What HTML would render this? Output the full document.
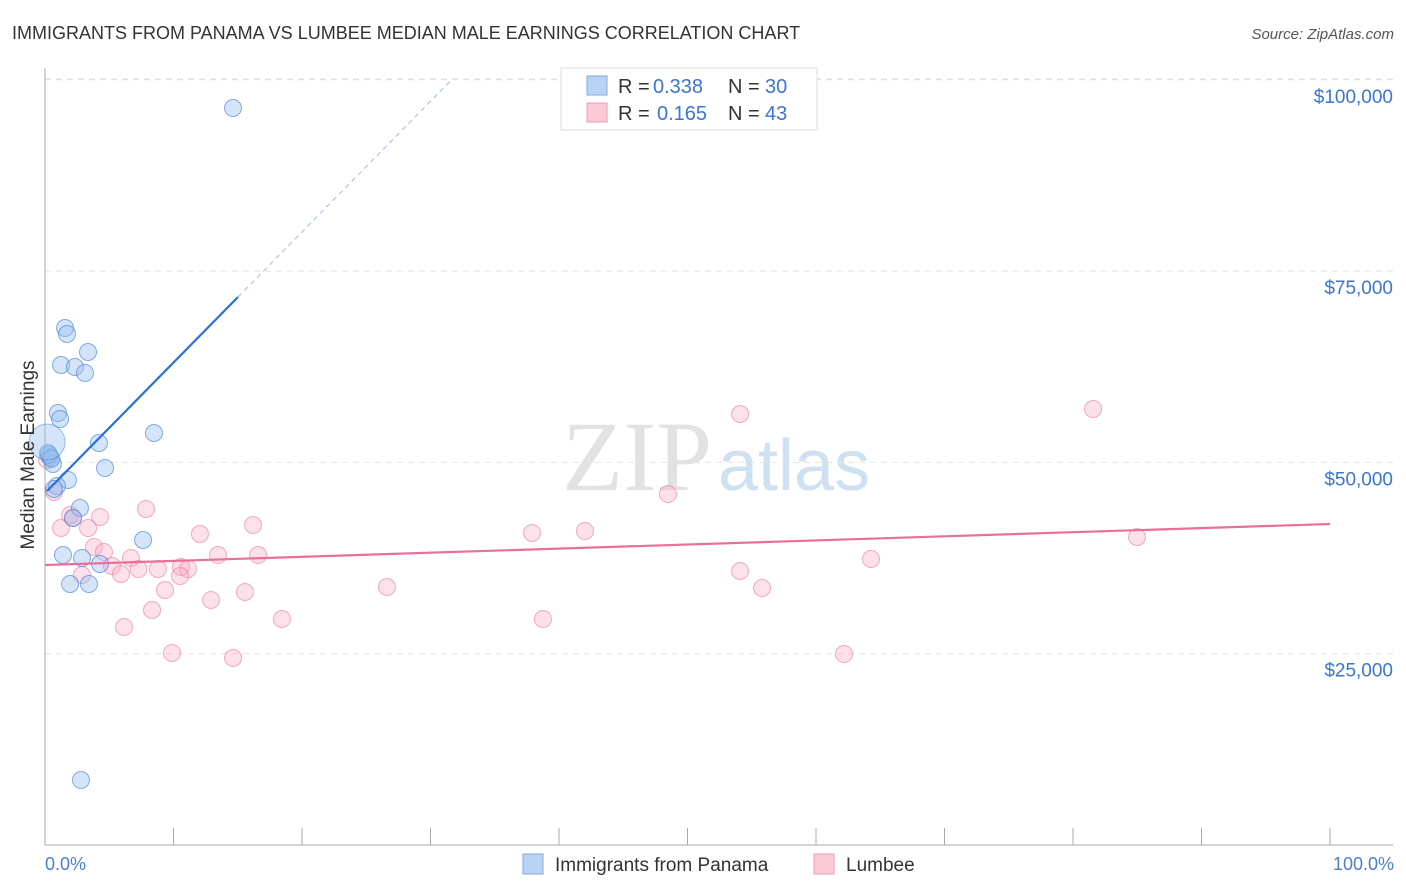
<!DOCTYPE html>
<html><head><meta charset="utf-8">
<style>
body{margin:0;background:#fff;font-family:"Liberation Sans",sans-serif;}
#c{position:absolute;left:0;top:0;}
</style></head>
<body>
<svg id="c" width="1406" height="892">
<text x="12" y="39" font-size="18" fill="#333">IMMIGRANTS FROM PANAMA VS LUMBEE MEDIAN MALE EARNINGS CORRELATION CHART</text>
<text x="1394" y="39" font-size="15" fill="#555" font-style="italic" text-anchor="end">Source: ZipAtlas.com</text>
<text x="712" y="490" font-size="100" fill="#e2e2e2" text-anchor="end" font-family="Liberation Serif">ZIP</text>
<text x="718" y="490" font-size="72" fill="#cfe0f3">atlas</text>
<g id="grid"></g><g id="axes"></g><g id="pts"></g><g id="lines"></g>
<text transform="translate(34,455) rotate(-90)" font-size="19" fill="#333" text-anchor="middle">Median Male Earnings</text>
<text x="45" y="870" font-size="18" fill="#4a7fd0">0.0%</text>
<text x="1394" y="870" font-size="18" fill="#4a7fd0" text-anchor="end">100.0%</text>
<g>
<rect x="561" y="68" width="256" height="62" fill="#fff" stroke="#ddd"/>
<rect x="587" y="76" width="20" height="19" fill="#b8d3f5" stroke="#7ea8e0"/>
<rect x="587" y="103" width="20" height="19" fill="#fbc9d8" stroke="#f09ab5"/>
<text y="93" font-size="20" fill="#333"><tspan x="618">R =</tspan><tspan x="653" fill="#3a76d0">0.338</tspan><tspan x="728">N =</tspan><tspan x="765" fill="#3a76d0">30</tspan></text>
<text y="120" font-size="20" fill="#333"><tspan x="618">R =</tspan><tspan x="657" fill="#3a76d0">0.165</tspan><tspan x="728">N =</tspan><tspan x="765" fill="#3a76d0">43</tspan></text>
</g>
<g>
<rect x="523" y="854" width="20" height="20" fill="#b8d3f5" stroke="#7ea8e0"/>
<text x="555" y="871" font-size="19" fill="#333">Immigrants from Panama</text>
<rect x="814" y="854" width="20" height="20" fill="#fbc9d8" stroke="#f09ab5"/>
<text x="846" y="871" font-size="19" fill="#333">Lumbee</text>
</g>
</svg>
<script>
const yTicks=[25000,50000,75000,100000];
const yTickLabels=["$25,000","$50,000","$75,000","$100,000"];
const xTicks=[0,10,20,30,40,50,60,70,80,90,100];
const blueX=[14.63,1.56,1.71,3.35,1.25,2.33,3.11,1.01,1.17,8.48,4.20,0.23,0.39,0.62,4.67,1.79,0.93,0.70,2.72,2.18,7.63,1.40,2.88,4.28,1.95,3.42,2.80,0.30,0.50];
const blueY=[96316,67564,66780,64428,62729,62467,61683,56456,55672,53842,52535,51229,50706,49791,49268,47700,46916,46524,44041,42734,39859,37899,37507,36722,34109,34109,8494,51000,50500];
const bigX=[0.16];
const bigY=[52666];
const pinkX=[0.70,1.25,1.95,2.18,4.28,3.35,7.86,3.81,4.59,6.69,5.21,5.91,7.28,8.79,10.58,11.13,10.51,2.88,9.34,8.33,6.15,12.92,12.06,13.46,16.19,16.58,15.56,18.44,9.88,14.63,26.61,37.90,42.02,38.75,48.48,54.09,54.09,55.80,64.28,62.18,81.56,84.98,0.16];
const pinkY=[46132,41427,43126,42734,42865,41427,43910,38944,38291,37507,36461,35416,36069,36069,36330,36069,35154,35285,33325,30711,28489,32018,40643,37899,41819,37899,33063,29535,25091,24438,33717,40774,41035,29535,45871,56325,35808,33586,37376,24961,56979,40251,50314];
const blueTrend=[[0.16,46263],[15.02,71616],[31.7,100105]];
const pinkTrend=[[0,36591],[100,41949]];
const X=p=>45+p*12.85, Y=v=>845-v*0.007652;
const NS="http://www.w3.org/2000/svg";
function mk(t,a,parent){const e=document.createElementNS(NS,t);for(const k in a)e.setAttribute(k,a[k]);document.getElementById(parent).appendChild(e);return e;}
yTicks.forEach((v,i)=>{
 const l=mk('line',{x1:45,x2:1393,y1:Y(v),y2:Y(v),stroke:'#e2e2e2','stroke-dasharray':'6,5'},'grid');
 
 
 const t=mk('text',{x:1393,y:Y(v)+23,'font-size':19,fill:'#3a76d0','text-anchor':'end'},'grid');
 t.textContent=yTickLabels[i];
 
 
});
const topLine=mk('line',{x1:45,x2:1393,y1:79,y2:79,stroke:'#e2e2e2','stroke-dasharray':'6,5'},'grid');


const ya=mk('line',{x1:45,x2:45,y1:68,y2:845,stroke:'#aaa'},'axes');


const xa=mk('line',{x1:45,x2:1393,y1:845,y2:845,stroke:'#aaa'},'axes');


xTicks.forEach(p=>{
 const t=mk('line',{x1:X(p),x2:X(p),y1:828,y2:845,stroke:'#aaa'},'axes');
 
 
});
pinkX.forEach((p,i)=>{
 const c=mk('circle',{cx:X(p),cy:Y(pinkY[i]),r:8.5,fill:'rgba(248,170,195,0.35)',stroke:'rgba(232,120,160,0.6)','stroke-width':1},'pts');
 
 
});
blueX.forEach((p,i)=>{
 const c=mk('circle',{cx:X(p),cy:Y(blueY[i]),r:8.5,fill:'rgba(150,190,240,0.4)',stroke:'rgba(70,130,210,0.65)','stroke-width':1},'pts');
 
 
});
bigX.forEach((p,i)=>{
 const c=mk('circle',{cx:X(p),cy:Y(bigY[i]),r:18,fill:'rgba(150,190,240,0.4)',stroke:'rgba(70,130,210,0.5)','stroke-width':1},'pts');
 
 
});
const b1=mk('line',{x1:X(blueTrend[0][0]),y1:Y(blueTrend[0][1]),x2:X(blueTrend[1][0]),y2:Y(blueTrend[1][1]),stroke:'#2a6fd6','stroke-width':2.2},'lines');


const b2=mk('line',{x1:X(blueTrend[1][0]),y1:Y(blueTrend[1][1]),x2:X(blueTrend[2][0]),y2:Y(blueTrend[2][1]),stroke:'#9dbbe6','stroke-width':1,'stroke-dasharray':'5,4'},'lines');


const p1=mk('line',{x1:X(pinkTrend[0][0]),y1:Y(pinkTrend[0][1]),x2:X(pinkTrend[1][0]),y2:Y(pinkTrend[1][1]),stroke:'#e8709a','stroke-width':2.2},'lines');


</script>
</body></html>
